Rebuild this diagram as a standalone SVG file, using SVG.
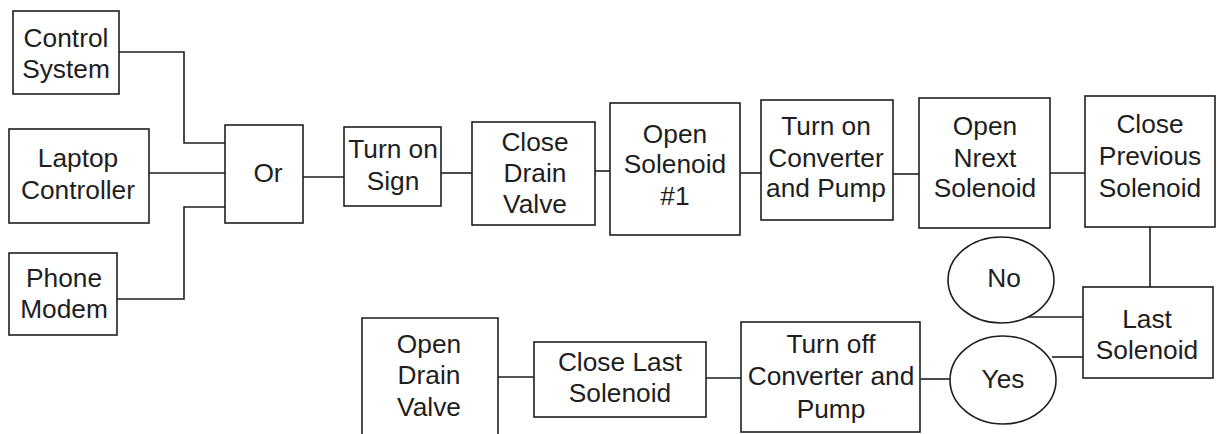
<svg xmlns="http://www.w3.org/2000/svg" width="1218" height="434" viewBox="0 0 1218 434">
<style>
.b{fill:#fff;stroke:#1e1e1e;stroke-width:1.6}
.c{fill:none;stroke:#1e1e1e;stroke-width:1.6}
text{font-family:"Liberation Sans",Arial,Helvetica,sans-serif;font-size:26.3px;fill:#1e1e1e;text-anchor:middle}
</style>
<rect width="1218" height="434" fill="#fff"/>
<g id="connectors" class="c">
<polyline points="119,52 184,52 184,143 225,143"/>
<line x1="149" y1="173" x2="225" y2="173"/>
<polyline points="117,299 184,299 184,207 225,207"/>
<line x1="303" y1="177" x2="344" y2="177"/>
<line x1="441" y1="173" x2="472" y2="173"/>
<line x1="595" y1="171" x2="610" y2="171"/>
<line x1="740" y1="173" x2="761" y2="173"/>
<line x1="893" y1="174" x2="919" y2="174"/>
<line x1="1050" y1="173" x2="1085" y2="173"/>
<line x1="1150" y1="227" x2="1150" y2="287"/>
<line x1="1028" y1="317" x2="1083" y2="317"/>
<line x1="1052" y1="357" x2="1083" y2="357"/>
<line x1="921" y1="379" x2="950" y2="379"/>
<line x1="706" y1="378" x2="741" y2="378"/>
<line x1="498" y1="377" x2="534" y2="377"/>
</g>
<g id="control-system"><rect class="b" x="13" y="11" width="106" height="83"/><text x="66" y="47">Control</text><text x="66" y="78">System</text></g>
<g id="laptop-controller"><rect class="b" x="9" y="129" width="140" height="94"/><text x="78" y="167">Laptop</text><text x="78" y="199">Controller</text></g>
<g id="phone-modem"><rect class="b" x="9" y="253" width="108" height="82"/><text x="64" y="287">Phone</text><text x="64" y="318">Modem</text></g>
<g id="or"><rect class="b" x="225" y="125" width="78" height="98"/><text x="268" y="182">Or</text></g>
<g id="turn-on-sign"><rect class="b" x="344" y="127" width="97" height="79"/><text x="393" y="158">Turn on</text><text x="393" y="190">Sign</text></g>
<g id="close-drain-valve"><rect class="b" x="472" y="122" width="123" height="103"/><text x="535" y="151">Close</text><text x="535" y="182">Drain</text><text x="535" y="213">Valve</text></g>
<g id="open-solenoid-1"><rect class="b" x="610" y="103" width="130" height="132"/><text x="675" y="143">Open</text><text x="675" y="173">Solenoid</text><text x="675" y="205">#1</text></g>
<g id="turn-on-converter"><rect class="b" x="761" y="100" width="132" height="120"/><text x="826" y="135">Turn on</text><text x="826" y="167">Converter</text><text x="826" y="197">and Pump</text></g>
<g id="open-next-solenoid"><rect class="b" x="919" y="98" width="131" height="130"/><text x="985" y="135">Open</text><text x="985" y="167">Nrext</text><text x="985" y="197">Solenoid</text></g>
<g id="close-previous-solenoid"><rect class="b" x="1085" y="96" width="130" height="131"/><text x="1150" y="133">Close</text><text x="1150" y="165">Previous</text><text x="1150" y="197">Solenoid</text></g>
<g id="no"><ellipse class="b" cx="1001" cy="280" rx="53" ry="43"/><text x="1004" y="287">No</text></g>
<g id="last-solenoid"><rect class="b" x="1083" y="287" width="130" height="91"/><text x="1147" y="328">Last</text><text x="1147" y="359">Solenoid</text></g>
<g id="yes"><ellipse class="b" cx="1003" cy="380" rx="53" ry="44"/><text x="1003" y="388">Yes</text></g>
<g id="turn-off-converter"><rect class="b" x="741" y="322" width="179" height="110"/><text x="831" y="353">Turn off</text><text x="831" y="385">Converter and</text><text x="831" y="418">Pump</text></g>
<g id="close-last-solenoid"><rect class="b" x="534" y="342" width="172" height="75"/><text x="620" y="371">Close Last</text><text x="620" y="402">Solenoid</text></g>
<g id="open-drain-valve"><path class="c" d="M362,434 V318 H498 V434"/><text x="429" y="353">Open</text><text x="429" y="384">Drain</text><text x="429" y="416">Valve</text></g>
</svg>
